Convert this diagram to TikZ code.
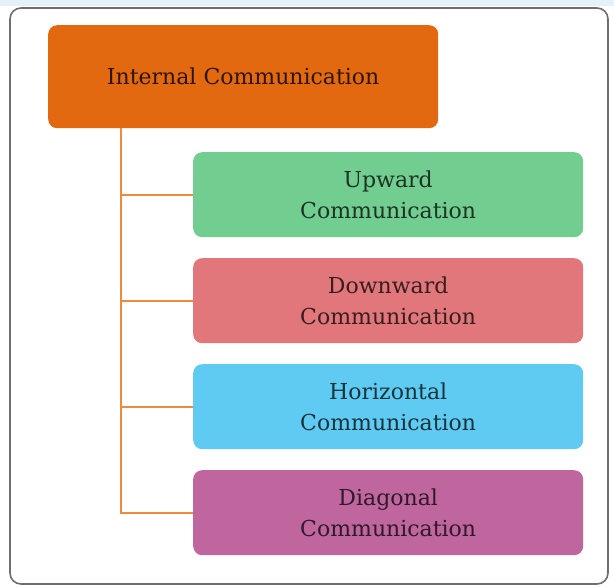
\documentclass[tikz,border=0pt]{standalone}
\usepackage{fontspec}
\setmainfont{DejaVu Serif}
\definecolor{frameGrey}{HTML}{6E6E6E}
\definecolor{topStrip}{HTML}{E4F2F8}
\definecolor{orangeBox}{HTML}{E2690F}
\definecolor{linkOrange}{HTML}{EF8A3E}
\definecolor{greenBox}{HTML}{72CD90}
\definecolor{redBox}{HTML}{E1777B}
\definecolor{blueBox}{HTML}{60CBF2}
\definecolor{purpleBox}{HTML}{BF669F}
\tikzset{
  px/.style={x=1pt,y=-1pt},
  card/.style={rounded corners=9pt, draw=none, minimum width=390pt,
    minimum height=85pt, align=center, font=\fontsize{22}{31}\selectfont,
    inner sep=0pt},
  link/.style={draw=linkOrange, line width=2pt},
}
\begin{document}
\begin{tikzpicture}[px]
  \useasboundingbox (0,0) rectangle (614,588);
  \fill[white] (0,0) rectangle (614,588);
  \fill[topStrip] (0,0) rectangle (614,6);
  % outer frame
  \draw[frameGrey, line width=1.6pt, rounded corners=11pt] (10,8) rectangle (608,584);
  % root
  \node[card, fill=orangeBox, minimum width=390pt, minimum height=103pt,
        text=black!80!orangeBox, anchor=north west] (root) at (48,25)
        {Internal Communication};
  % children
  \node[card, fill=greenBox, text=black!75!greenBox, anchor=north west] (up) at (193,152)
        {Upward\\Communication};
  \node[card, fill=redBox, text=black!75!redBox, anchor=north west] (down) at (193,258)
        {Downward\\Communication};
  \node[card, fill=blueBox, text=black!75!blueBox, anchor=north west] (hor) at (193,364)
        {Horizontal\\Communication};
  \node[card, fill=purpleBox, text=black!75!purpleBox, anchor=north west] (diag) at (193,470)
        {Diagonal\\Communication};
  % connectors
  \coordinate (trunk) at (121,128);
  \draw[link] (trunk) |- (up.west);
  \draw[link] (trunk) |- (down.west);
  \draw[link] (trunk) |- (hor.west);
  \draw[link] (trunk) |- (diag.west);
\end{tikzpicture}
\end{document}
